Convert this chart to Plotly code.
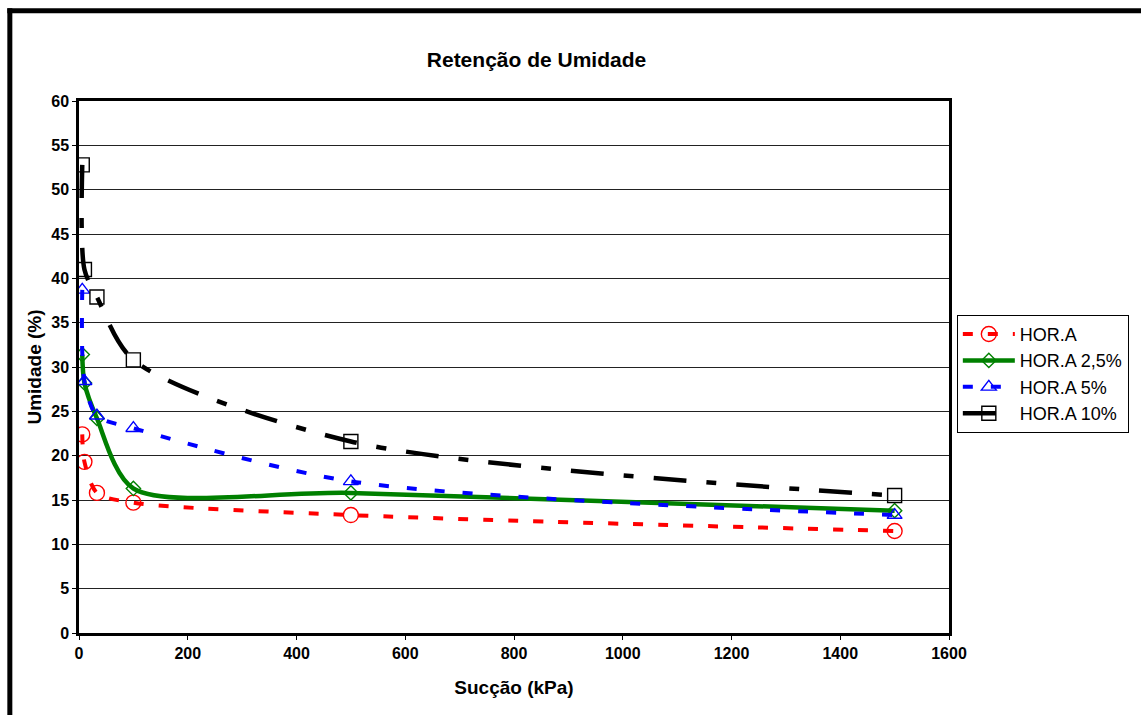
import plotly.graph_objects as go

# Sucção aplicada (kPa)
succao = [6, 10, 33, 100, 500, 1500]

# Umidade retida (%) para cada tratamento
hor_a = [22.4, 19.3, 15.8, 14.7, 13.3, 11.5]
hor_a_25 = [31.4, 28.2, 24.2, 16.3, 15.8, 13.8]
hor_a_5 = [38.7, 28.4, 24.5, 23.1, 17.1, 13.3]
hor_a_10 = [52.8, 41.0, 37.9, 30.8, 21.6, 15.5]

nomes = ["HOR.A", "HOR.A 2,5%", "HOR.A 5%", "HOR.A 10%"]
series = [hor_a, hor_a_25, hor_a_5, hor_a_10]

estilos = [
    dict(color="#ff0000", width=4, dash="10px,15px", symbol="circle-open", size=15),
    dict(color="#008000", width=4.5, dash="solid", symbol="diamond-open", size=11),
    dict(color="#0000ff", width=4, dash="10px,18px", symbol="triangle-up-open", size=13),
    dict(color="#000000", width=4.5, dash="33px,20px,10px,20px", symbol="square-open", size=14),
]

FONT = "Liberation Sans, Arial, sans-serif"

fig = go.Figure()
for nome, y, st in zip(nomes, series, estilos):
    fig.add_trace(go.Scatter(
        x=succao, y=y, name=nome, mode="lines+markers",
        line=dict(color=st["color"], width=st["width"], dash=st["dash"],
                  shape="spline", smoothing=0.8),
        marker=dict(symbol=st["symbol"], size=st["size"], color=st["color"],
                    line=dict(color=st["color"], width=1.4)),
    ))

fig.update_layout(
    width=1141, height=715,
    margin=dict(l=79, r=192, t=101, b=82),
    paper_bgcolor="white", plot_bgcolor="white",
    font=dict(family=FONT, color="black"),
    title=dict(text="<b>Retenção de Umidade</b>", font=dict(size=21, family=FONT),
               x=0.4702, xref="container", xanchor="center",
               y=1 - 59.5 / 715, yref="container", yanchor="middle"),
    legend=dict(x=1.009, y=0.598, xanchor="left", yanchor="top",
                bordercolor="black", borderwidth=1, bgcolor="white",
                font=dict(size=18, family=FONT), itemwidth=52,
                tracegroupgap=0),
    showlegend=True,
)

fig.update_xaxes(
    range=[0, 1600], dtick=200, tick0=0,
    showline=True, linecolor="black", linewidth=2.5, mirror=True,
    ticks="outside", ticklen=4, tickcolor="black", tickwidth=1,
    showgrid=False, zeroline=False,
    tickfont=dict(size=16, family=FONT),
    tickprefix="<b>", ticksuffix="</b>",
    title=dict(text="<b>Sucção (kPa)</b>", font=dict(size=19, family=FONT), standoff=20),
)
fig.update_yaxes(
    range=[0, 60], dtick=5, tick0=0,
    showline=True, linecolor="black", linewidth=2.5, mirror=True,
    ticks="outside", ticklen=4, tickcolor="black", tickwidth=1,
    showgrid=True, gridcolor="#222222", gridwidth=1, zeroline=False,
    tickfont=dict(size=16, family=FONT),
    tickprefix="<b>", ticksuffix="</b>",
    title=dict(text="<b>Umidade (%)</b>", font=dict(size=19, family=FONT), standoff=5),
)

# Moldura externa do gráfico (bordas esquerda e superior)
fig.add_shape(type="line", xref="paper", yref="paper",
              x0=-0.0795, x1=-0.0795, y0=-0.3, y1=1.1745,
              line=dict(color="black", width=5))
fig.add_shape(type="line", xref="paper", yref="paper",
              x0=-0.0824, x1=1.4, y0=1.1695, y1=1.1695,
              line=dict(color="black", width=5))

fig.write_html("out.html")
